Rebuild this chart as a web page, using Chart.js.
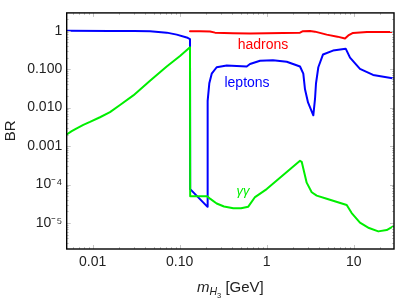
<!DOCTYPE html>
<html>
<head>
<meta charset="utf-8">
<script src="https://cdn.jsdelivr.net/npm/chart.js@4/dist/chart.umd.min.js"></script>
<style>
html,body{margin:0;padding:0;background:#fff;}
#wrap{width:399px;height:300px;}
</style>
</head>
<body>
<div id="wrap"><canvas id="c" width="399" height="300"></canvas></div>
<script>
// ---- data (m_H3 in GeV, branching ratios) ----
const hadronsM  = [0.1313, 0.171, 0.223, 0.2547, 0.41, 0.643, 1.008, 1.54, 2.415, 2.61, 3.15, 3.59, 4.89, 6.5, 7.94, 8.67, 9.82, 14.2, 29.05];
const hadronsBR = [0.96, 0.96, 0.955, 0.89, 0.857, 0.844, 0.857, 0.87, 0.89, 0.972, 0.983, 0.944, 0.79, 0.70, 0.63, 0.75, 0.875, 0.928, 0.928];

const leptonsM  = [0.00502, 0.0158, 0.030, 0.0456, 0.071, 0.0925, 0.1203, 0.1313, 0.1320, 0.2075, 0.2080, 0.2110, 0.2189, 0.2333, 0.266, 0.347, 0.589, 0.643, 0.838, 1.18, 1.70, 2.415, 2.634, 2.755, 2.984, 3.433, 3.591, 3.687, 3.92, 4.44, 5.78, 8.09, 9.07, 11.8, 16.7, 29.05];
const leptonsBR = [0.99, 0.985, 0.975, 0.96, 0.89, 0.79, 0.668, 0.606, 7.6e-5, 2.66e-5, 6.3e-4, 0.015, 0.0429, 0.0763, 0.112, 0.124, 0.117, 0.136, 0.165, 0.171, 0.156, 0.117, 0.0763, 0.0299, 0.0136, 0.0063, 0.0168, 0.0429, 0.112, 0.241, 0.304, 0.341, 0.2, 0.1017, 0.0708, 0.0572];

const gammaM  = [0.00502, 0.005736, 0.00655, 0.0078, 0.00931, 0.01213, 0.0158, 0.0206, 0.0293, 0.0456, 0.0709, 0.1008, 0.1313, 0.1320, 0.207, 0.223, 0.266, 0.323, 0.413, 0.5066, 0.614, 0.734, 1.0, 2.415, 2.525, 2.88, 3.29, 3.756, 4.894, 8.31, 9.48, 11.8, 15.0, 19.18, 23.95, 29.05];
const gammaBR = [0.002, 0.00244, 0.0029, 0.00355, 0.00424, 0.00562, 0.00763, 0.01168, 0.0208, 0.0501, 0.1168, 0.22, 0.369, 4.93e-5, 4.93e-5, 4.29e-5, 3.22e-5, 2.69e-5, 2.41e-5, 2.43e-5, 2.66e-5, 4.73e-5, 7.63e-5, 4.14e-4, 3.91e-4, 1.12e-4, 6.3e-5, 5.16e-5, 4.29e-5, 2.93e-5, 1.81e-5, 1.02e-5, 7.4e-6, 6.06e-6, 6.57e-6, 8.4e-6];

const seriesNames = ['hadrons', 'leptons', 'γγ'];

const xTicks = [0.01, 0.1, 1, 10];
const xTickLabels = ['0.01', '0.10', '1', '10'];
const yTicks = [1e-5, 1e-4, 1e-3, 1e-2, 1e-1, 1];
const yTickLabels = ['10⁻⁵', '10⁻⁴', '0.001', '0.010', '0.100', '1'];

const xMin = 0.005024, xMax = 29.05;
const yMin = 2.11e-6, yMax = 2.9;

// ---- build ----
const toPts = (xs, ys) => xs.map((x, i) => ({x: x, y: ys[i]}));
const FONT = '"Liberation Sans", Arial, Helvetica, sans-serif';
const RED = '#ff0000', BLUE = '#0000ff', GREEN = '#00ee00';

const labelAnchors = [
  {text: seriesNames[0], m: 0.907, br: 0.422, color: RED, italic: false, size: 14},
  {text: seriesNames[1], m: 0.594, br: 0.0422, color: BLUE, italic: false, size: 14},
  {text: seriesNames[2], m: 0.534, br: 6.68e-5, color: GREEN, italic: true, size: 13}
];

const decorPlugin = {
  id: 'decor',
  afterDatasetsDraw(chart) {
    const ctx = chart.ctx, a = chart.chartArea;
    const xs = chart.scales.x, ys = chart.scales.y;
    ctx.save();
    // tick marks (inward) on all four sides
    ctx.strokeStyle = '#c4c4c4';
    ctx.lineWidth = 1;
    for (let d = -3; d <= 2; d++) {
      for (let k = 1; k <= 9; k++) {
        const v = k * Math.pow(10, d);
        const len = k === 1 ? 4 : 2;
        if (v >= xMin && v <= xMax) {
          const px = Math.round(xs.getPixelForValue(v)) + 0.5;
          ctx.beginPath();
          ctx.moveTo(px, a.bottom); ctx.lineTo(px, a.bottom - len);
          ctx.moveTo(px, a.top); ctx.lineTo(px, a.top + len);
          ctx.stroke();
        }
      }
    }
    for (let d = -6; d <= 1; d++) {
      for (let k = 1; k <= 9; k++) {
        const v = k * Math.pow(10, d);
        const len = k === 1 ? 4 : 2;
        if (v >= yMin && v <= yMax) {
          const py = Math.round(ys.getPixelForValue(v)) + 0.5;
          ctx.beginPath();
          ctx.moveTo(a.left, py); ctx.lineTo(a.left + len, py);
          ctx.moveTo(a.right, py); ctx.lineTo(a.right - len, py);
          ctx.stroke();
        }
      }
    }
    // curve labels
    ctx.textAlign = 'center';
    ctx.textBaseline = 'middle';
    labelAnchors.forEach(l => {
      ctx.fillStyle = l.color;
      ctx.font = (l.italic ? 'italic ' : '') + l.size + 'px ' + FONT;
      ctx.fillText(l.text, xs.getPixelForValue(l.m), ys.getPixelForValue(l.br));
    });
    // frame
    ctx.strokeStyle = '#000';
    ctx.lineWidth = 1.4;
    ctx.strokeRect(a.left, a.top, a.right - a.left, a.bottom - a.top);
    ctx.restore();
  },
  afterDraw(chart) {
    const ctx = chart.ctx, a = chart.chartArea;
    ctx.save();
    ctx.fillStyle = '#222';
    // y title
    ctx.save();
    ctx.translate(10.5, (a.top + a.bottom) / 2);
    ctx.rotate(-Math.PI / 2);
    ctx.textAlign = 'center';
    ctx.textBaseline = 'middle';
    ctx.font = '15px ' + FONT;
    ctx.fillText('BR', 0, 0);
    ctx.restore();
    // x title: m_{H_3} [GeV]
    const parts = [
      {t: 'm', f: 'italic 15px ' + FONT, dy: 0},
      {t: 'H', f: 'italic 10.5px ' + FONT, dy: 3.5},
      {t: '3', f: '7.5px ' + FONT, dy: 6},
      {t: ' [GeV]', f: '15px ' + FONT, dy: 0}
    ];
    let total = 0;
    parts.forEach(p => { ctx.font = p.f; p.w = ctx.measureText(p.t).width; total += p.w; });
    let x = (a.left + a.right) / 2 - total / 2;
    const base = 291.5;
    ctx.textAlign = 'left';
    ctx.textBaseline = 'alphabetic';
    parts.forEach(p => { ctx.font = p.f; ctx.fillText(p.t, x, base + p.dy); x += p.w; });
    ctx.restore();
  }
};

new Chart(document.getElementById('c'), {
  type: 'scatter',
  data: {
    datasets: [
      {label: seriesNames[0], data: toPts(hadronsM, hadronsBR), borderColor: RED, order: 2},
      {label: seriesNames[1], data: toPts(leptonsM, leptonsBR), borderColor: BLUE, order: 1},
      {label: seriesNames[2], data: toPts(gammaM, gammaBR), borderColor: GREEN, order: 0}
    ].map(d => Object.assign(d, {showLine: true, pointRadius: 0, borderWidth: 2, tension: 0, fill: false, borderJoinStyle: 'round', borderCapStyle: 'round'}))
  },
  options: {
    responsive: false,
    animation: false,
    devicePixelRatio: 1,
    layout: {padding: {top: 3.7, right: 5, left: 0, bottom: 0}},
    plugins: {legend: {display: false}, tooltip: {enabled: false}},
    scales: {
      x: {
        type: 'logarithmic', min: xMin, max: xMax,
        grid: {display: false, drawTicks: false}, border: {display: false},
        afterBuildTicks: s => { s.ticks = xTicks.map(v => ({value: v})); },
        afterFit: s => { s.height = 51; },
        ticks: {
          autoSkip: false, maxRotation: 0, padding: 5, color: '#222',
          font: {family: FONT, size: 14},
          callback: v => { const i = xTicks.indexOf(v); return i >= 0 ? xTickLabels[i] : ''; }
        }
      },
      y: {
        type: 'logarithmic', min: yMin, max: yMax,
        grid: {display: false, drawTicks: false}, border: {display: false},
        afterBuildTicks: s => { s.ticks = yTicks.map(v => ({value: v})); },
        afterFit: s => { s.width = 66.7; },
        ticks: {
          autoSkip: false, padding: 4.5, color: '#222',
          font: {family: FONT, size: 14},
          callback: v => { const i = yTicks.indexOf(v); return i >= 0 ? yTickLabels[i] : ''; }
        }
      }
    }
  },
  plugins: [decorPlugin]
});
</script>
</body>
</html>
